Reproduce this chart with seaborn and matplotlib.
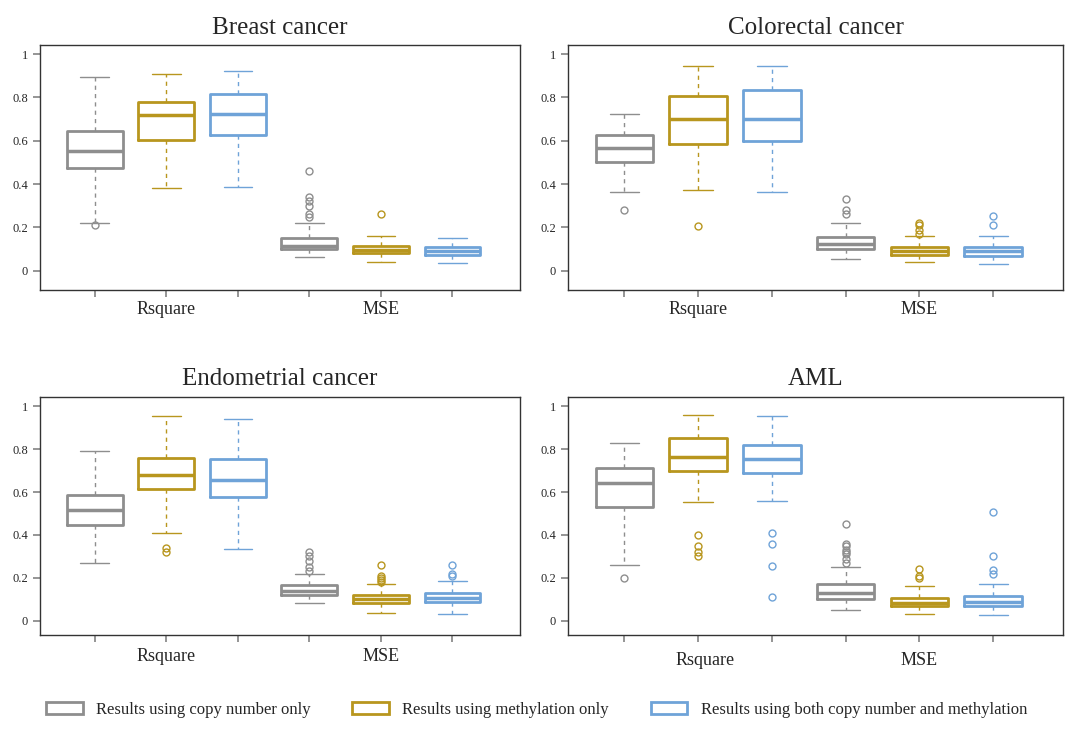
import numpy as np
import seaborn as sns
import matplotlib.pyplot as plt
from matplotlib.patches import Patch

sns.set_theme(style="white")
plt.rcParams['font.family'] = ['Liberation Serif', 'DejaVu Serif']

titles = ["Breast cancer", "Colorectal cancer", "Endometrial cancer", "AML"]
series = ["Results using copy number only", "Results using methylation only",
          "Results using both copy number and methylation"]
colors = ["#8e8e8e", "#b8961e", "#6fa3d8"]

# per panel: 6 boxes (Rsquare x3, MSE x3): whislo, q1, med, q3, whishi
breast = [(.22, .475, .555, .645, .895), (.38, .605, .72, .78, .91), (.385, .625, .725, .815, .92),
          (.065, .10, .115, .15, .22), (.04, .08, .095, .115, .16), (.035, .075, .09, .11, .15)]
breast_fl = [[.21], [], [], [.25, .26, .30, .32, .34, .46], [.26], []]
colorectal = [(.365, .50, .565, .625, .725), (.375, .585, .70, .805, .945), (.365, .60, .70, .835, .945),
              (.055, .10, .125, .155, .22), (.04, .075, .09, .11, .16), (.03, .07, .09, .11, .16)]
colorectal_fl = [[.28], [.205], [], [.26, .28, .33], [.17, .19, .21, .22], [.21, .255]]
endometrial = [(.27, .445, .515, .585, .79), (.41, .615, .68, .76, .955), (.335, .575, .655, .755, .94),
               (.085, .12, .14, .165, .22), (.035, .085, .10, .12, .17), (.03, .09, .105, .13, .185)]
endometrial_fl = [[], [.32, .34], [], [.23, .25, .28, .30, .32], [.18, .19, .20, .21, .26], [.21, .22, .26]]
aml = [(.26, .53, .64, .71, .83), (.555, .70, .765, .85, .96), (.56, .69, .755, .82, .955),
       (.05, .10, .13, .17, .25), (.03, .07, .085, .105, .16), (.025, .07, .09, .115, .17)]
aml_fl = [[.20], [.30, .32, .35, .40], [.11, .255, .36, .41],
          [.27, .29, .31, .32, .33, .35, .36, .45], [.20, .21, .24], [.22, .235, .30, .505]]

panels = [(breast, breast_fl), (colorectal, colorectal_fl), (endometrial, endometrial_fl), (aml, aml_fl)]
rects = [[0.037, 0.604, 0.448, 0.334], [0.529, 0.604, 0.462, 0.334],
         [0.037, 0.134, 0.448, 0.325], [0.529, 0.134, 0.462, 0.325]]
ylims = [(-0.09, 1.04), (-0.09, 1.04), (-0.065, 1.045), (-0.065, 1.045)]
label_y = [-0.08, -0.08, -0.09, -0.11]

fig = plt.figure(figsize=(10.73, 7.33), dpi=100)
for k, ((boxes, fliers), title) in enumerate(zip(panels, titles)):
    ax = fig.add_axes(rects[k])
    for i, (b, fl) in enumerate(zip(boxes, fliers)):
        c = colors[i % 3]
        st = [dict(whislo=b[0], q1=b[1], med=b[2], q3=b[3], whishi=b[4], fliers=fl)]
        ax.bxp(st, positions=[i + 1], widths=0.78, patch_artist=False,
               boxprops=dict(color=c, lw=2), medianprops=dict(color=c, lw=2.5),
               whiskerprops=dict(color=c, lw=1, ls=(0, (3, 3))),
               capprops=dict(color=c, lw=1), capwidths=0.4,
               flierprops=dict(marker='o', mfc='none', mec=c, ms=5))
    ax.set_xlim(0.23, 6.95)
    ax.set_ylim(*ylims[k])
    ax.set_yticks([0, 0.2, 0.4, 0.6, 0.8, 1])
    ax.set_yticklabels(["0", "0.2", "0.4", "0.6", "0.8", "1"], fontsize=9)
    ax.set_xticks(range(1, 7))
    ax.set_xticklabels([])
    ax.tick_params(axis='both', length=5, color='#888888', bottom=True, left=True)
    ax.text(2 if k != 3 else 2.1, label_y[k], "Rsquare", ha='center', va='center', fontsize=13,
            transform=ax.get_xaxis_transform(), clip_on=False)
    ax.text(5, label_y[k], "MSE", ha='center', va='center', fontsize=13,
            transform=ax.get_xaxis_transform(), clip_on=False)
    for s in ax.spines.values():
        s.set_color('#333333')
        s.set_linewidth(1)
    ax.set_title(title, fontsize=18, pad=8)

handles = [Patch(facecolor='white', edgecolor=c, lw=2) for c in colors]
fig.legend(handles, series, loc='lower center', ncol=3, frameon=False, fontsize=12,
           bbox_to_anchor=(0.5, 0.0), handlelength=2.2, columnspacing=2.5)
fig.savefig("out.png", dpi=100)
